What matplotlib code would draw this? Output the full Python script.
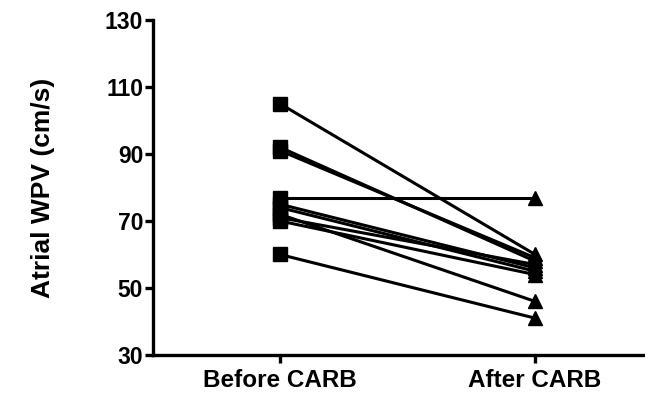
import matplotlib
matplotlib.use("Agg")
import matplotlib.pyplot as plt

categories = ["Before CARB", "After CARB"]
before = [105, 92, 91, 77, 75, 74, 72, 71, 70, 60]
after = [60, 58, 59, 77, 56, 55, 46, 57, 54, 41]
yticks = [30, 50, 70, 90, 110, 130]

plt.rcParams['font.family'] = ['Liberation Sans', 'DejaVu Sans']
fig = plt.figure(figsize=(6.45, 3.98), dpi=100)
ax = fig.add_axes([0.237, 0.108, 0.763, 0.842])

xs = [0, 1]
for b, a in zip(before, after):
    ax.plot(xs, [b, a], color='black', lw=2.2, zorder=2)
ax.plot([0] * len(before), before, ls='none', marker='s', ms=10, color='black', zorder=3)
ax.plot([1] * len(after), after, ls='none', marker='^', ms=10, color='black', zorder=3)

ax.set_xlim(-0.498, 1.431)
ax.set_ylim(30, 130)
ax.set_yticks(yticks)
ax.set_xticks(xs)
ax.set_xticklabels(categories)
for s in ['top', 'right']:
    ax.spines[s].set_visible(False)
for s in ['left', 'bottom']:
    ax.spines[s].set_linewidth(2.4)
ax.tick_params(axis='y', width=2.4, length=6, labelsize=16.5, pad=1)
ax.tick_params(axis='x', width=2.4, length=6, labelsize=17.5, pad=4)
for lab in ax.get_xticklabels() + ax.get_yticklabels():
    lab.set_fontweight('bold')
ax.set_ylabel("Atrial WPV (cm/s)", fontsize=19, fontweight='bold', labelpad=36)

fig.savefig("out.png", dpi=100)
